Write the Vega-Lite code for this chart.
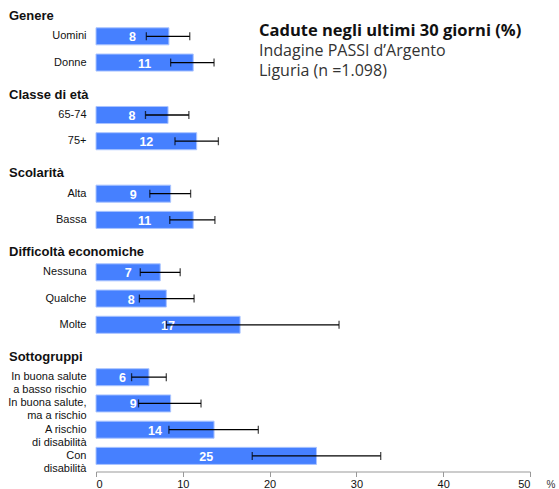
{
  "$schema": "https://vega.github.io/schema/vega-lite/v6.json",
  "width": 434,
  "height": 472,
  "autosize": "none",
  "padding": {"left": 96, "top": -3, "right": 29, "bottom": 20},
  "background": "white",
  "config": {"view": {"stroke": null}, "font": "Liberation Sans"},
  "title": {
    "text": "Cadute negli ultimi 30 giorni (%)",
    "subtitle": ["Indagine PASSI d’Argento", "Liguria (n =1.098)"],
    "orient": "top",
    "anchor": "start",
    "frame": "group",
    "dx": 163,
    "dy": 86,
    "font": "Open Sans",
    "fontSize": 16.5,
    "fontWeight": "bold",
    "color": "#111111",
    "subtitleFont": "Open Sans",
    "subtitleFontSize": 16,
    "subtitleColor": "#333333",
    "subtitlePadding": 4,
    "subtitleLineHeight": 20
  },
  "datasets": {
    "rows": [
      {"cat": "Uomini", "value": 8.4, "lo": 5.8, "hi": 10.8},
      {"cat": "Donne", "value": 11.2, "lo": 8.6, "hi": 13.6},
      {"cat": "65-74", "value": 8.3, "lo": 5.7, "hi": 10.7},
      {"cat": "75+", "value": 11.6, "lo": 9.1, "hi": 14.1},
      {"cat": "Alta", "value": 8.6, "lo": 6.2, "hi": 10.9},
      {"cat": "Bassa", "value": 11.2, "lo": 8.5, "hi": 13.7},
      {"cat": "Nessuna", "value": 7.4, "lo": 5.1, "hi": 9.7},
      {"cat": "Qualche", "value": 8.1, "lo": 5.0, "hi": 11.3},
      {"cat": "Molte", "value": 16.6, "lo": 8.1, "hi": 28.0},
      {"cat": "In buona salute|a basso rischio", "value": 6.1, "lo": 4.1, "hi": 8.1},
      {"cat": "In buona salute,|ma a rischio", "value": 8.6, "lo": 4.9, "hi": 12.1},
      {"cat": "A rischio|di disabilità", "value": 13.6, "lo": 8.4, "hi": 18.7},
      {"cat": "Con|disabilità", "value": 25.4, "lo": 18.0, "hi": 32.8}
    ],
    "heads": [
      {"cat": "Genere"},
      {"cat": "Classe di età"},
      {"cat": "Scolarità"},
      {"cat": "Difficoltà economiche"},
      {"cat": "Sottogruppi"}
    ]
  },
  "resolve": {"scale": {"x": "independent"}, "axis": {"x": "independent"}},
  "encoding": {
    "y": {
      "field": "cat",
      "type": "nominal",
      "title": null,
      "scale": {
        "domain": ["Genere", "Uomini", "Donne", "Classe di età", "65-74", "75+", "Scolarità", "Alta", "Bassa", "Difficoltà economiche", "Nessuna", "Qualche", "Molte", "Sottogruppi", "In buona salute|a basso rischio", "In buona salute,|ma a rischio", "A rischio|di disabilità", "Con|disabilità"],
        "paddingInner": 0.35,
        "paddingOuter": 0.175
      },
      "axis": {
        "domain": false,
        "ticks": false,
        "labelPadding": 10,
        "labelFontSize": 11,
        "labelColor": "#111111",
        "labelLineHeight": 13,
        "labelExpr": "indexof(['Genere','Classe di età','Scolarità','Difficoltà economiche','Sottogruppi'], datum.value) >= 0 ? '' : split(datum.value, '|')"
      }
    }
  },
  "layer": [
    {
      "data": {"name": "rows"},
      "mark": {"type": "bar", "color": "#4680ff", "stroke": "#aac4ff", "strokeWidth": 1},
      "encoding": {
        "x": {
          "field": "value",
          "type": "quantitative",
          "scale": {"domain": [0, 50]},
          "axis": {
            "values": [0, 10, 20, 30, 40, 50],
            "grid": false,
            "domainColor": "#999999",
            "tickColor": "#999999",
            "tickSize": 5,
            "labelFontSize": 11,
            "labelColor": "#111111",
            "labelPadding": 2,
            "offset": 2.5,
            "title": "%",
            "titleFontSize": 10,
            "titleFontWeight": "normal",
            "titleColor": "#333333",
            "titleX": 450,
            "titleY": 16,
            "titleAlign": "left",
            "titleBaseline": "alphabetic"
          }
        }
      }
    },
    {
      "data": {"name": "rows"},
      "mark": {"type": "text", "color": "white", "fontWeight": "bold", "fontSize": 12.5, "baseline": "middle", "dy": 1},
      "encoding": {
        "x": {"field": "value", "type": "quantitative", "scale": {"domain": [0, 50], "range": [0, 217]}, "axis": null},
        "text": {"field": "value", "type": "quantitative", "format": ".0f"}
      }
    },
    {
      "data": {"name": "rows"},
      "mark": {"type": "rule", "color": "black", "strokeWidth": 1.3},
      "encoding": {
        "x": {"field": "lo", "type": "quantitative", "scale": {"domain": [0, 50]}, "axis": null},
        "x2": {"field": "hi"}
      }
    },
    {
      "data": {"name": "rows"},
      "mark": {"type": "tick", "color": "black", "thickness": 1.3, "size": 8},
      "encoding": {
        "x": {"field": "lo", "type": "quantitative", "scale": {"domain": [0, 50]}, "axis": null}
      }
    },
    {
      "data": {"name": "rows"},
      "mark": {"type": "tick", "color": "black", "thickness": 1.3, "size": 8},
      "encoding": {
        "x": {"field": "hi", "type": "quantitative", "scale": {"domain": [0, 50]}, "axis": null}
      }
    },
    {
      "data": {"name": "heads"},
      "mark": {"type": "text", "align": "left", "baseline": "middle", "fontWeight": "bold", "fontSize": 13, "color": "#111111", "dx": -87, "dy": 6},
      "encoding": {
        "x": {"datum": 0, "type": "quantitative", "scale": {"domain": [0, 50]}, "axis": null},
        "text": {"field": "cat"}
      }
    }
  ]
}
